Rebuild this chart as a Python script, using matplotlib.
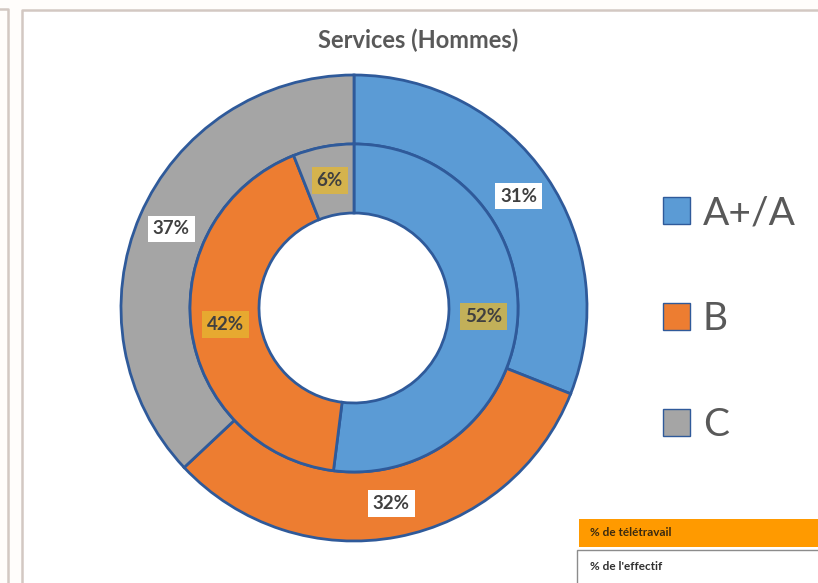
import matplotlib.pyplot as plt
from matplotlib.patches import Rectangle
from matplotlib.lines import Line2D

categories = ['A+/A', 'B', 'C']
effectif = [31, 32, 37]      # outer ring
teletravail = [52, 42, 6]    # inner ring
colors = ['#5B9BD5', '#ED7D31', '#A5A5A5']
title = 'Services (Hommes)'
table_rows = ['% de télétravail', "% de l'effectif"]

plt.rcParams['font.family'] = ['Lato', 'DejaVu Sans']

W, H = 818, 583
fig = plt.figure(figsize=(W / 100, H / 100), dpi=100)
fig.patch.set_facecolor('#FFFDFB')

# axes in pixel coordinates (y up)
ax = fig.add_axes([0, 0, 1, 1])

# panel borders
ax.add_line(Line2D([22, 22, W], [0, H - 10, H - 10], color='#D3C8C2', lw=1.8))
ax.add_line(Line2D([0, 8, 8], [H - 9, H - 9, 0], color='#D3C8C2', lw=1.8))
ax.add_patch(Rectangle((23, 0), W - 23, H - 11, facecolor='white', edgecolor='none', zorder=0))

cx, cy = 354, H - 308
edge = dict(edgecolor='#2F5A9A', linewidth=2)

outer, _, outer_txt = ax.pie(effectif, colors=colors, startangle=90, counterclock=False,
                             radius=233, center=(cx, cy), autopct='%d%%', pctdistance=0.855,
                             wedgeprops=dict(width=69, **edge), frame=True)
inner, _, inner_txt = ax.pie(teletravail, colors=colors, startangle=90, counterclock=False,
                             radius=164, center=(cx, cy), autopct='%d%%', pctdistance=0.79,
                             wedgeprops=dict(width=69, **edge), frame=True)
ax.set_xlim(0, W)
ax.set_ylim(0, H)
ax.set_aspect('equal')
ax.axis('off')

for t in outer_txt:
    t.set_fontsize(13.5)
    t.set_fontweight('bold')
    t.set_color('#404040')
    t.set_bbox(dict(facecolor='white', edgecolor='none', pad=3.5))
for t in inner_txt:
    t.set_fontsize(13.5)
    t.set_fontweight('bold')
    t.set_color('#404040')
    t.set_bbox(dict(facecolor='#E6B830', alpha=0.75, edgecolor='none', pad=3.5))

ax.text(418, H - 40, title, ha='center', va='center', fontsize=17,
        fontweight='bold', color='#595959')

leg = ax.legend(outer, categories, loc='upper left', bbox_to_anchor=(628 / W, 1 - 160 / H),
                bbox_transform=fig.transFigure, frameon=False, fontsize=28,
                labelspacing=1.8, handlelength=0.7, handleheight=0.7, handletextpad=0.32,
                labelcolor='#595959')
for h in leg.legend_handles:
    h.set_edgecolor('#2F5A9A')
    h.set_linewidth(1)

# small table bottom-right
ax.add_patch(Rectangle((579, H - 547), W - 579, 28, facecolor='#FF9A00', edgecolor='none'))
ax.add_patch(Rectangle((577, H - 585), W - 577 + 2, 35, facecolor='white', edgecolor='#8C8C8C', lw=1))
ax.text(590, H - 533, table_rows[0], fontsize=8.5, fontweight='bold', color='#3A2A10', va='center')
ax.text(590, H - 566, table_rows[1], fontsize=8.5, fontweight='bold', color='#303030', va='center')

fig.savefig('out.png', dpi=100, facecolor=fig.get_facecolor())
